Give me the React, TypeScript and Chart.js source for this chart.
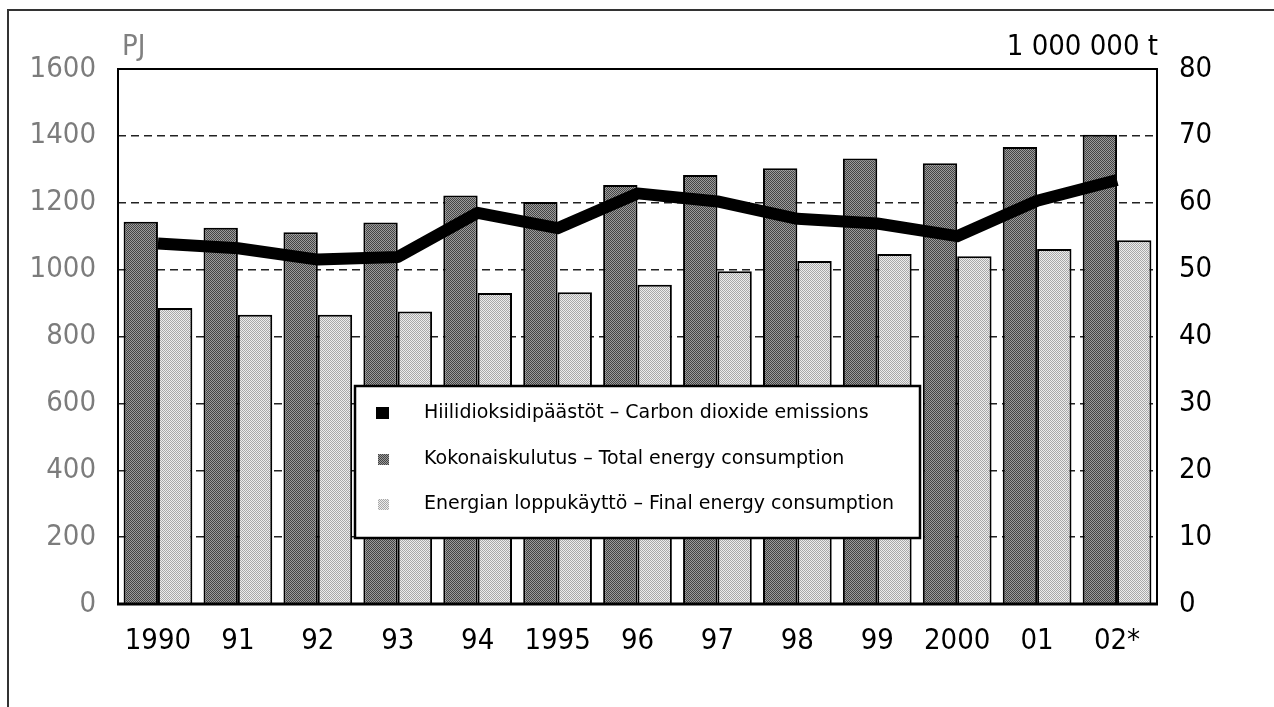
import React, { useEffect, useRef } from "react";
import { Chart, registerables } from "chart.js";

Chart.register(...registerables);

const years = ["1990", "91", "92", "93", "94", "1995", "96", "97", "98", "99", "2000", "01", "02*"];
const totalEnergy = [1143, 1125, 1112, 1141, 1222, 1202, 1253, 1283, 1303, 1332, 1318, 1367, 1403];
const finalEnergy = [885, 865, 865, 875, 930, 932, 955, 995, 1026, 1047, 1040, 1062, 1088];
const co2Emissions = [53.9, 53.2, 51.5, 51.9, 58.5, 56.2, 61.4, 60.2, 57.6, 56.9, 55.0, 60.3, 63.4];
const legendLabels = [
  "Hiilidioksidipäästöt – Carbon dioxide emissions",
  "Kokonaiskulutus – Total energy consumption",
  "Energian loppukäyttö – Final energy consumption",
];
const leftUnit = "PJ";
const rightUnit = "1 000 000 t";

const FONT = '"DejaVu Sans Condensed", "DejaVu Sans", sans-serif';
const LEGEND_FONT = '"DejaVu Sans", sans-serif';

function makePattern(c1: string, c2: string): CanvasPattern | string {
  const cnv = document.createElement("canvas");
  cnv.width = 2;
  cnv.height = 2;
  const g = cnv.getContext("2d");
  if (!g) return c1;
  g.fillStyle = c1;
  g.fillRect(0, 0, 2, 2);
  g.fillStyle = c2;
  g.fillRect(1, 0, 1, 1);
  g.fillRect(0, 1, 1, 1);
  const p = g.createPattern(cnv, "repeat");
  return p || c1;
}

export default function App() {
  const ref = useRef<HTMLCanvasElement | null>(null);

  useEffect(() => {
    if (!ref.current) return;
    const darkPat = makePattern("#444444", "#9c9c9c");
    const lightPat = makePattern("#a8a8a8", "#ededed");

    const overlay = {
      id: "overlay",
      afterDatasetsDraw(chart: any) {
        const ctx = chart.ctx as CanvasRenderingContext2D;
        const { left, top, right, bottom } = chart.chartArea;
        ctx.save();
        // plot frame
        ctx.strokeStyle = "#000";
        ctx.lineWidth = 2;
        ctx.strokeRect(left, top, right - left, bottom - top);
        ctx.lineWidth = 3;
        ctx.beginPath();
        ctx.moveTo(left - 1, bottom);
        ctx.lineTo(right + 1, bottom);
        ctx.stroke();

        // legend box
        const bx = 355, by = 386, bw = 565, bh = 152;
        ctx.fillStyle = "#fff";
        ctx.fillRect(bx, by, bw, bh);
        ctx.lineWidth = 2.5;
        ctx.strokeStyle = "#000";
        ctx.strokeRect(bx, by, bw, bh);
        const rowsY = [413, 459, 504];
        const markers: (string | CanvasPattern)[] = ["#000", darkPat, lightPat];
        ctx.font = `19px ${LEGEND_FONT}`;
        ctx.textBaseline = "middle";
        ctx.textAlign = "left";
        legendLabels.forEach((lab, i) => {
          const y = rowsY[i];
          ctx.fillStyle = markers[i] as any;
          if (i === 0) ctx.fillRect(376, y - 6, 13, 12);
          else ctx.fillRect(378, y - 5, 11, 11);
          ctx.fillStyle = "#000";
          ctx.fillText(lab, 424, y);
        });

        // unit labels
        ctx.font = `29px ${FONT}`;
        ctx.textBaseline = "alphabetic";
        ctx.textAlign = "left";
        ctx.fillStyle = "#808080";
        ctx.fillText(leftUnit, 122, 55);
        ctx.textAlign = "right";
        ctx.fillStyle = "#000";
        ctx.fillText(rightUnit, right + 1, 55);
        ctx.restore();
      },
    };

    const chart = new Chart(ref.current, {
      type: "bar",
      data: {
        labels: years,
        datasets: [
          {
            type: "line",
            label: legendLabels[0],
            data: co2Emissions,
            yAxisID: "y1",
            borderColor: "#000",
            backgroundColor: "#000",
            borderWidth: 12,
            pointRadius: 0,
            tension: 0,
            borderCapStyle: "butt",
            borderJoinStyle: "round",
            order: 0,
          } as any,
          {
            label: legendLabels[1],
            data: totalEnergy,
            yAxisID: "y",
            backgroundColor: darkPat as any,
            borderColor: "#000",
            borderWidth: 2,
            barPercentage: 1,
            categoryPercentage: 0.86,
            order: 1,
          },
          {
            label: legendLabels[2],
            data: finalEnergy,
            yAxisID: "y",
            backgroundColor: lightPat as any,
            borderColor: "#000",
            borderWidth: 2,
            barPercentage: 1,
            categoryPercentage: 0.86,
            order: 1,
          },
        ],
      },
      options: {
        responsive: false,
        animation: false,
        devicePixelRatio: 1,
        layout: { padding: { top: 69, left: 0, right: 0, bottom: 0 } },
        plugins: {
          legend: { display: false },
          tooltip: { enabled: false },
          title: { display: false },
        },
        scales: {
          x: {
            grid: { display: false, drawTicks: false },
            border: { display: false },
            ticks: {
              color: "#000",
              font: { family: FONT, size: 29 },
              padding: 20,
              maxRotation: 0,
              autoSkip: false,
            },
            afterFit: (s: any) => {
              s.height = 103;
            },
          },
          y: {
            position: "left",
            min: 0,
            max: 1600,
            ticks: {
              stepSize: 200,
              color: "#7c7c7c",
              font: { family: FONT, size: 29 },
              padding: 22,
              callback: (v: any) => String(v),
            },
            grid: {
              drawTicks: false,
              lineWidth: 1.5,
              color: (c: any) =>
                c.tick && (c.tick.value === 0 || c.tick.value === 1600) ? "rgba(0,0,0,0)" : "#222",
            },
            border: { display: false, dash: [8, 5] },
            afterFit: (s: any) => {
              s.width = 118;
            },
          },
          y1: {
            position: "right",
            min: 0,
            max: 80,
            ticks: {
              stepSize: 10,
              color: "#000",
              font: { family: FONT, size: 29 },
              padding: 22,
              callback: (v: any) => String(v),
            },
            grid: { display: false, drawTicks: false },
            border: { display: false },
            afterFit: (s: any) => {
              s.width = 117;
            },
          },
        },
      },
      plugins: [overlay],
    });
    return () => chart.destroy();
  }, []);

  return (
    <div
      style={{
        position: "fixed",
        left: 0,
        top: 0,
        width: 1274,
        height: 707,
        overflow: "hidden",
        background: "#fff",
      }}
    >
      <div
        style={{
          position: "absolute",
          left: 7,
          top: 9,
          width: 1300,
          height: 720,
          borderLeft: "2px solid #333",
          borderTop: "2px solid #333",
        }}
      />
      <canvas
        ref={ref}
        width={1274}
        height={707}
        style={{ position: "absolute", left: 0, top: 0, width: 1274, height: 707 }}
      />
    </div>
  );
}
